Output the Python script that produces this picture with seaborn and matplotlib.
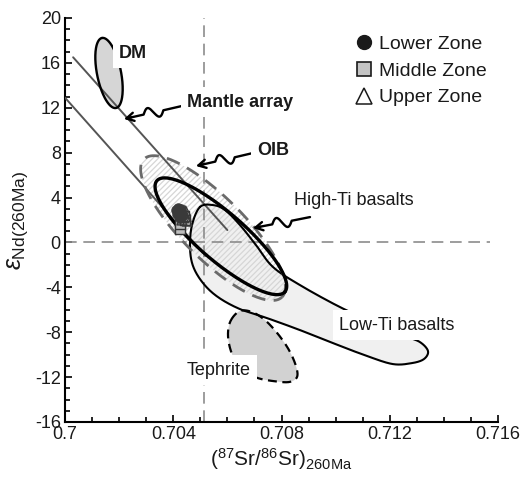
import numpy as np
import pandas as pd
import matplotlib
matplotlib.use("Agg")
import matplotlib.pyplot as plt
import seaborn as sns
from matplotlib.patches import Polygon
from matplotlib.lines import Line2D
from matplotlib.ticker import MultipleLocator, FixedLocator, FixedFormatter

# ---------------- data ----------------
# Sample groups: initial 87Sr/86Sr and eNd at 260 Ma
lower_sr = [0.70412, 0.70418, 0.70422, 0.70428, 0.70420, 0.70432, 0.70415, 0.70426]
lower_nd = [2.9, 3.1, 2.7, 3.0, 2.4, 2.6, 2.5, 2.2]
middle_sr = [0.70424, 0.70426, 0.70440, 0.70444]
middle_nd = [1.2, 1.6, 2.4, 2.0]
upper_sr = [0.70432, 0.70440, 0.70448, 0.70452, 0.70438, 0.70446]
upper_nd = [2.0, 2.6, 2.3, 1.9, 2.2, 2.8]

# Reference values (bulk earth at 260 Ma)
bulk_sr = 0.70514
bulk_nd = 0.0

# Mantle array bounding lines (start/end in Sr, Nd)
array_upper_sr = [0.7003, 0.7060]
array_upper_nd = [16.5, 1.1]
array_lower_sr = [0.7000, 0.7052]
array_lower_nd = [12.9, -1.2]

# Elliptical fields: centre, and two conjugate semi-axes (dSr, dNd)
dm_center = (0.701626, 15.10)
dm_axis_a = (-0.000259, 3.12)
dm_axis_b = (0.000435, 0.21)

oib_center = (0.705469, 1.28)
oib_axis_a = (0.00255, -6.15)
oib_axis_b = (0.000809, 1.95)

hiti_center = (0.705760, 0.55)
hiti_axis_a = (0.002365, -4.95)
hiti_axis_b = (0.000570, 1.60)

# Irregular fields: outline vertices (Sr, Nd)
loti_sr = [0.704988, 0.705469, 0.705912, 0.706466, 0.707057, 0.707686, 0.708683,
           0.710161, 0.711455, 0.712563, 0.713117, 0.713413, 0.713265, 0.712822,
           0.712120, 0.711159, 0.709903, 0.708683, 0.707464, 0.706466, 0.705653,
           0.705099, 0.704730, 0.704619, 0.704693]
loti_nd = [3.16, 3.33, 2.89, 1.55, -0.23, -2.19, -3.80,
           -5.76, -7.18, -8.34, -8.88, -9.68, -10.39, -10.75,
           -10.84, -10.12, -8.97, -7.81, -6.74, -5.94, -4.87,
           -3.62, -2.10, -0.41, 1.55]

teph_sr = [0.706134, 0.706466, 0.706910, 0.707390, 0.707870, 0.708277, 0.708535,
           0.708572, 0.708277, 0.707686, 0.707131, 0.706651, 0.706318, 0.706097,
           0.706023]
teph_nd = [-6.92, -6.11, -6.20, -6.92, -8.16, -9.59, -11.02,
           -12.00, -12.44, -12.35, -12.09, -11.55, -10.66, -9.41,
           -8.07]

# Axis ticks
x_ticks = [0.700, 0.704, 0.708, 0.712, 0.716]
x_tick_labels = ["0.7", "0.704", "0.708", "0.712", "0.716"]
y_ticks = [-16, -12, -8, -4, 0, 4, 8, 12, 16, 20]
y_tick_labels = ["-16", "-12", "-8", "-4", "0", "4", "8", "12", "16", "20"]

# Field labels: text, Sr, Nd, weight, alignment
field_labels = [
    ("DM", 0.701995, 16.88, "bold", "left"),
    ("Mantle array", 0.706485, 12.51, "bold", "center"),
    ("OIB", 0.707686, 8.15, "bold", "center"),
    ("High-Ti basalts", 0.710679, 3.78, "normal", "center"),
    ("Low-Ti basalts", 0.712267, -7.36, "normal", "center"),
    ("Tephrite", 0.705672, -11.37, "normal", "center"),
]

# Pointer arrows: (start Sr, start Nd) -> (tip Sr, tip Nd)
pointers = [
    ((0.704323, 12.16), (0.702180, 11.00)),
    ((0.706947, 7.97), (0.704840, 6.81)),
    ((0.709053, 2.26), (0.706947, 1.28)),
]

# ---------------- style ----------------
sns.set_theme(style="ticks")
plt.rcParams["font.family"] = ["Liberation Sans", "DejaVu Sans"]
plt.rcParams["mathtext.fontset"] = "custom"
plt.rcParams["mathtext.rm"] = "Liberation Sans"
plt.rcParams["mathtext.it"] = "Liberation Sans:italic"
plt.rcParams["mathtext.bf"] = "Liberation Sans:bold"
plt.rcParams["hatch.linewidth"] = 0.9


def ellipse_outline(center, a, b, n=240):
    t = np.linspace(0, 2 * np.pi, n)
    x = center[0] + a[0] * np.cos(t) + b[0] * np.sin(t)
    y = center[1] + a[1] * np.cos(t) + b[1] * np.sin(t)
    return np.column_stack([x, y])


def smooth_closed(xs, ys, k=24):
    """Periodic Catmull-Rom curve through the given vertices."""
    p = np.column_stack([xs, ys])
    n = len(p)
    t = np.linspace(0, 1, k, endpoint=False)[:, None]
    segs = []
    for i in range(n):
        p0, p1, p2, p3 = p[i - 1], p[i], p[(i + 1) % n], p[(i + 2) % n]
        segs.append(0.5 * (2 * p1 + (-p0 + p2) * t
                           + (2 * p0 - 5 * p1 + 4 * p2 - p3) * t ** 2
                           + (-p0 + 3 * p1 - 3 * p2 + p3) * t ** 3))
    out = np.vstack(segs)
    return np.vstack([out, out[:1]])


fig = plt.figure(figsize=(5.23, 4.79), dpi=100)
ax = fig.add_axes([65 / 523, 1 - 422 / 479, 433 / 523, 404 / 479])
ax.set_xlim(0.700, 0.716)
ax.set_ylim(-16, 20)

# ---- fields ----
loti = smooth_closed(loti_sr, loti_nd)
ax.add_patch(Polygon(loti, closed=True, facecolor="#f0f0f0", edgecolor="none", zorder=1))

teph = smooth_closed(teph_sr, teph_nd)
ax.add_patch(Polygon(teph, closed=True, facecolor="#d2d2d2", edgecolor="none", zorder=1.2))

oib = ellipse_outline(oib_center, oib_axis_a, oib_axis_b)
ax.add_patch(Polygon(oib, closed=True, facecolor="none", edgecolor="#d6d6d6",
                     hatch="//////", lw=0, zorder=1.5))

dm = ellipse_outline(dm_center, dm_axis_a, dm_axis_b)
ax.add_patch(Polygon(dm, closed=True, facecolor="#d6d6d6", edgecolor="none", zorder=1.5))

# ---- reference lines ----
ax.axvline(bulk_sr, color="#8c8c8c", lw=1.2, dashes=(7, 4), zorder=2)
ax.plot([0.700, 0.7157], [bulk_nd, bulk_nd], color="#8c8c8c", lw=1.2,
        dashes=(7, 4), zorder=2)

# ---- mantle array ----
sns.lineplot(x=array_upper_sr, y=array_upper_nd, ax=ax, color="#555555", lw=1.4,
             zorder=3, estimator=None, sort=False)
sns.lineplot(x=array_lower_sr, y=array_lower_nd, ax=ax, color="#555555", lw=1.4,
             zorder=3, estimator=None, sort=False)

# ---- field outlines ----
ax.plot(loti[:, 0], loti[:, 1], color="black", lw=1.5, zorder=4)
ax.plot(teph[:, 0], teph[:, 1], color="black", lw=1.6, dashes=(4, 2.5), zorder=4)
ax.plot(oib[:, 0], oib[:, 1], color="#6a6a6a", lw=2.0, dashes=(5, 3), zorder=4)
ax.plot(dm[:, 0], dm[:, 1], color="black", lw=1.7, zorder=4)
hiti = ellipse_outline(hiti_center, hiti_axis_a, hiti_axis_b)
ax.plot(hiti[:, 0], hiti[:, 1], color="black", lw=2.4, zorder=4.2)

# ---- samples ----
df = pd.concat([
    pd.DataFrame({"sr": lower_sr, "nd": lower_nd, "zone": "Lower Zone"}),
    pd.DataFrame({"sr": middle_sr, "nd": middle_nd, "zone": "Middle Zone"}),
    pd.DataFrame({"sr": upper_sr, "nd": upper_nd, "zone": "Upper Zone"}),
])
sub = df[df.zone == "Middle Zone"]
sns.scatterplot(data=sub, x="sr", y="nd", marker="s", s=45, color="#bdbdbd",
                edgecolor="#333333", linewidth=1.0, ax=ax, zorder=5, legend=False)
sub = df[df.zone == "Lower Zone"]
sns.scatterplot(data=sub, x="sr", y="nd", marker="o", s=45, color="#3a3a3a",
                edgecolor="#3a3a3a", linewidth=0.8, ax=ax, zorder=5.1, legend=False)
sub = df[df.zone == "Upper Zone"]
ax.scatter(sub.sr, sub.nd, marker="^", s=50, facecolors="none",
           edgecolors="#3a3a3a", linewidths=1.0, zorder=5.2)


# ---- pointer arrows ----
def squiggle(start, end, amp=5.5):
    s = ax.transData.transform(start)
    e = ax.transData.transform(end)
    d = e - s
    u = d / np.hypot(*d)
    nrm = np.array([-u[1], u[0]])
    t = np.linspace(0, 1, 300)
    w = np.where((t > 0.32) & (t < 0.66), np.sin((t - 0.32) / 0.34 * 2 * np.pi), 0.0)
    pts = s[None, :] + t[:, None] * d[None, :] + amp * w[:, None] * nrm[None, :]
    pts = ax.transData.inverted().transform(pts)
    ax.plot(pts[:-20, 0], pts[:-20, 1], color="black", lw=1.7, zorder=6,
            solid_capstyle="round")
    ax.annotate("", xy=end, xytext=tuple(pts[-40]),
                arrowprops=dict(arrowstyle="->,head_length=0.45,head_width=0.25",
                                color="black", lw=1.7, shrinkA=0, shrinkB=0),
                zorder=6)


for start, end in pointers:
    squiggle(start, end)

# ---- field labels ----
for text, x, y, weight, ha in field_labels:
    ax.text(x, y, text, fontsize=13, fontweight=weight, ha=ha, va="center",
            color="#1a1a1a", zorder=7,
            bbox=dict(boxstyle="square,pad=0.35", facecolor="white", edgecolor="none"))

# ---- legend ----
handles = [
    Line2D([], [], marker="o", ls="none", markersize=10, markerfacecolor="#1a1a1a",
           markeredgecolor="#1a1a1a"),
    Line2D([], [], marker="s", ls="none", markersize=9.5, markerfacecolor="#c4c4c4",
           markeredgecolor="#1a1a1a", markeredgewidth=1.2),
    Line2D([], [], marker="^", ls="none", markersize=11, markerfacecolor="none",
           markeredgecolor="#1a1a1a", markeredgewidth=1.1),
]
leg = ax.legend(handles, ["Lower Zone", "Middle Zone", "Upper Zone"],
                loc="upper left", bbox_to_anchor=(0.672, 0.958), frameon=False,
                fontsize=14, handlelength=0.8, handletextpad=0.4,
                labelspacing=0.48, borderaxespad=0, borderpad=0)
for t in leg.get_texts():
    t.set_color("#1a1a1a")

# ---- axes ----
sns.despine(ax=ax)
for side in ("left", "bottom"):
    ax.spines[side].set_linewidth(1.5)
    ax.spines[side].set_color("black")
ax.xaxis.set_major_locator(FixedLocator(x_ticks))
ax.xaxis.set_major_formatter(FixedFormatter(x_tick_labels))
ax.xaxis.set_minor_locator(MultipleLocator(0.001))
ax.yaxis.set_major_locator(FixedLocator(y_ticks))
ax.yaxis.set_major_formatter(FixedFormatter(y_tick_labels))
ax.yaxis.set_minor_locator(MultipleLocator(1))
ax.tick_params(which="both", direction="in", color="black", width=1.2,
               labelsize=13, labelcolor="#1a1a1a")
ax.tick_params(which="major", length=5, pad=3)
ax.tick_params(which="minor", length=3.5)

ax.set_xlabel(r"$(^{87}\mathrm{Sr}/^{86}\mathrm{Sr})_{260\mathrm{Ma}}$",
              fontsize=15, color="#1a1a1a")
ax.set_ylabel(r"$\varepsilon_{\mathrm{Nd(260Ma)}}$", fontsize=18, color="#1a1a1a")
ax.xaxis.set_label_coords(0.5, -0.06)
ax.yaxis.set_label_coords(-0.08, 0.5)

fig.savefig("out.png", dpi=100, facecolor="white")
